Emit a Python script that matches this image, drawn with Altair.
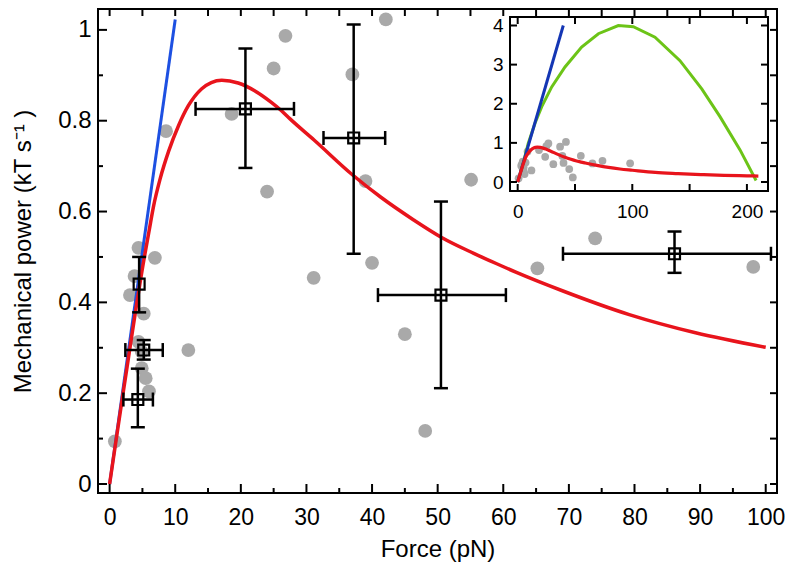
import altair as alt
import pandas as pd

# ---------------- data ----------------
# grey single-motor measurements: force (pN), mechanical power (kT/s)
dot_x = [0.8, 4.4, 6.9, 3.8, 3.1, 5.2, 4.4, 4.9, 12.0, 4.9, 5.5, 6.0, 8.6, 18.6,
         24.0, 25.0, 26.8, 31.1, 37.0, 39.0, 40.0, 42.1, 45.0, 48.1, 55.1, 65.2,
         74.0, 98.1]
dot_y = [0.094, 0.52, 0.498, 0.458, 0.416, 0.375, 0.313, 0.291, 0.295, 0.255,
         0.233, 0.204, 0.777, 0.815, 0.644, 0.915, 0.987, 0.454, 0.902, 0.667,
         0.487, 1.023, 0.33, 0.117, 0.67, 0.475, 0.541, 0.478]

# binned means with error bars
err_x = [4.3, 5.2, 4.5, 20.7, 37.2, 50.5, 86.1]
err_y = [0.186, 0.295, 0.44, 0.826, 0.762, 0.416, 0.507]
err_xlo = [2.1, 2.4, 4.5, 13.1, 32.6, 40.9, 69.1]
err_xhi = [6.6, 8.1, 4.5, 28.1, 42.0, 60.4, 100.8]
err_ylo = [0.125, 0.274, 0.378, 0.696, 0.507, 0.211, 0.465]
err_yhi = [0.254, 0.317, 0.500, 0.959, 1.012, 0.622, 0.556]

# red model curve
red_x = [0, 1, 2, 3, 4, 5.2, 6, 6.7, 7.7, 9, 10.5, 12, 14, 15.5, 17.1, 19.6, 22.1,
         24.6, 26.2, 27.5, 31.2, 37, 41.3, 46.4, 50.6, 55.5, 59, 62, 69.1, 79.2,
         89.3, 100, 120, 140, 160, 180, 200, 210]
red_y = [0, 0.098, 0.195, 0.29, 0.385, 0.492, 0.556, 0.612, 0.672, 0.733, 0.789,
         0.833, 0.870, 0.884, 0.889, 0.883, 0.866, 0.841, 0.822, 0.804, 0.757,
         0.681, 0.632, 0.581, 0.543, 0.508, 0.485, 0.466, 0.425, 0.373, 0.333,
         0.301, 0.245, 0.215, 0.19, 0.17, 0.158, 0.152]

# blue linear line (main and inset)
blue_x = [0, 10.0]
blue_y = [0, 1.023]
blue_inset_x = [0, 39.8]
blue_inset_y = [0, 4.0]

# green curve (inset only)
green_x = [0, 5, 9.2, 15.1, 20.9, 29.7, 41.3, 55.8, 70.4, 87.8, 100.9, 119.8,
           141.6, 160.6, 176.5, 194, 208]
green_y = [0, 0.5, 0.985, 1.5, 1.92, 2.43, 2.94, 3.45, 3.79, 4.0, 3.97, 3.70,
           3.10, 2.38, 1.67, 0.82, 0.04]

# tick values
x_major = [0, 10, 20, 30, 40, 50, 60, 70, 80, 90, 100]
x_minor = [5, 15, 25, 35, 45, 55, 65, 75, 85, 95]
y_major = [0, 0.2, 0.4, 0.6, 0.8, 1.0]
y_minor = [0.1, 0.3, 0.5, 0.7, 0.9]
x_top = [0, 5, 10, 15, 20, 25, 30, 35, 40, 45, 50, 55, 60, 65, 70, 75, 80, 85, 90, 95, 100]
y_right = [0, 0.1, 0.2, 0.3, 0.4, 0.5, 0.6, 0.7, 0.8, 0.9, 1.0]
ix_ticks = [0, 50, 100, 150, 200]
ix_labels = [0, 100, 200]
iy_ticks = [0, 1, 2, 3, 4]

# ---------------- layout / style ----------------
W, H = 679, 484
PAD_L = 90
FONT = "Liberation Sans"
RED, BLUE, BLUE2, GREEN, GREY = "#e8141c", "#1d50e2", "#1436b4", "#6cc417", "#a9a9a9"

X_DOM = [-1.77, 101.72]
Y_DOM = [-0.0198, 1.046]
IX_DOM = [-6.7, 218.4]
IY_DOM = [-0.23, 4.217]
IX_RANGE = [412, 670]
IY_RANGE = [182, 8]

XS = alt.Scale(domain=X_DOM, nice=False, zero=False)
YS = alt.Scale(domain=Y_DOM, nice=False, zero=False)
XA = alt.Axis(orient="bottom", title="Force (pN)", values=x_major, format="d",
              ticks=False, tickSize=0, domain=False, grid=False,
              labelFontSize=23, labelPadding=13, labelColor="black",
              titleFontSize=24, titleFontWeight="normal", titlePadding=8,
              titleColor="black")
YA = alt.Axis(orient="left", title="Mechanical power (kT s\u207b\u00b9 )", values=y_major,
              format="~g", ticks=False, tickSize=0, domain=False, grid=False,
              labelFontSize=24, labelPadding=7, labelColor="black",
              titleFontSize=24, titleFontWeight="normal", titlePadding=22,
              titleColor="black")

IXS = alt.Scale(domain=IX_DOM, range=IX_RANGE, nice=False, zero=False)
IYS = alt.Scale(domain=IY_DOM, range=IY_RANGE, nice=False, zero=False)
IXA = alt.Axis(orient="bottom", offset=-(H - IY_RANGE[0]), values=ix_labels, format="d",
               ticks=False, tickSize=0, domain=False, grid=False, title=None,
               labelFontSize=19, labelPadding=11, labelColor="black")
IYA = alt.Axis(orient="left", offset=-IX_RANGE[0], values=iy_ticks, format="d",
               ticks=False, tickSize=0, domain=False, grid=False, title=None,
               labelFontSize=19, labelPadding=7, labelColor="black")


def mx(f):
    return alt.X(f, type="quantitative", scale=XS, axis=XA)


def my(f):
    return alt.Y(f, type="quantitative", scale=YS, axis=YA)


def ix(f):
    return alt.X(f, type="quantitative", scale=IXS, axis=IXA)


def iy(f):
    return alt.Y(f, type="quantitative", scale=IYS, axis=IYA)


dots_df = pd.DataFrame({"x": dot_x, "y": dot_y})
red_df = pd.DataFrame({"x": red_x, "y": red_y})
blue_df = pd.DataFrame({"x": blue_x, "y": blue_y})
iblue_df = pd.DataFrame({"x": blue_inset_x, "y": blue_inset_y})
green_df = pd.DataFrame({"x": green_x, "y": green_y})
err_df = pd.DataFrame({"x": err_x, "y": err_y, "xlo": err_xlo, "xhi": err_xhi,
                       "ylo": err_ylo, "yhi": err_yhi})
capv_df = pd.DataFrame({"x": err_x + err_x, "y": err_ylo + err_yhi})
caph_df = pd.DataFrame({"x": err_xlo + err_xhi, "y": err_y + err_y})
caph_df = caph_df[[a != b for a, b in zip(caph_df["x"], err_x + err_x)]]

# ---------------- main panel ----------------
dots = alt.Chart(dots_df).mark_circle(size=190, color=GREY, opacity=1).encode(x=mx("x"), y=my("y"))
blue = alt.Chart(blue_df).mark_line(color=BLUE, strokeWidth=3).encode(x=mx("x"), y=my("y"))
red = (alt.Chart(red_df).transform_filter("datum.x <= 100")
       .mark_line(color=RED, strokeWidth=3.5, interpolate="monotone")
       .encode(x=mx("x"), y=my("y")))
errh = alt.Chart(err_df).mark_rule(color="black", strokeWidth=2.5).encode(
    y=my("y"), x=mx("xlo"), x2="xhi")
errv = alt.Chart(err_df).mark_rule(color="black", strokeWidth=2.5).encode(
    x=mx("x"), y=my("ylo"), y2="yhi")
capv = alt.Chart(capv_df).mark_tick(orient="horizontal", size=14, thickness=2.5,
                                    color="black", opacity=1).encode(x=mx("x"), y=my("y"))
caph = alt.Chart(caph_df).mark_tick(orient="vertical", size=14, thickness=2.5,
                                    color="black", opacity=1).encode(x=mx("x"), y=my("y"))
squares = alt.Chart(err_df).mark_point(shape="square", size=120, filled=False,
                                       strokeWidth=2.2, color="black", opacity=1).encode(
    x=mx("x"), y=my("y"))


def tdf(vals):
    return pd.DataFrame({"t": vals})


tk = dict(color="black", strokeWidth=2)
t_bot_maj = alt.Chart(tdf(x_major)).mark_rule(**tk).encode(x=mx("t"), y=alt.value(H), y2=alt.value(H - 9))
t_bot_min = alt.Chart(tdf(x_minor)).mark_rule(**tk).encode(x=mx("t"), y=alt.value(H), y2=alt.value(H - 5))
t_top = alt.Chart(tdf(x_top)).mark_rule(**tk).encode(x=mx("t"), y=alt.value(0), y2=alt.value(7))
t_left_maj = alt.Chart(tdf(y_major)).mark_rule(**tk).encode(y=my("t"), x=alt.value(0), x2=alt.value(9))
t_left_min = alt.Chart(tdf(y_minor)).mark_rule(**tk).encode(y=my("t"), x=alt.value(0), x2=alt.value(5))
t_right = alt.Chart(tdf(y_right)).mark_rule(**tk).encode(y=my("t"), x=alt.value(W), x2=alt.value(W - 7))

main = alt.layer(dots, blue, red, errh, errv, caph, capv, squares,
                 t_bot_maj, t_bot_min, t_top, t_left_maj, t_left_min, t_right)

# ---------------- inset ----------------
frame_df = pd.DataFrame({"x": [IX_DOM[0]], "x2": [IX_DOM[1]], "y": [IY_DOM[0]], "y2": [IY_DOM[1]]})
frame = alt.Chart(frame_df).mark_rect(fill="white", stroke="black", strokeWidth=2).encode(
    x=ix("x"), x2="x2", y=iy("y"), y2="y2")
idots = alt.Chart(dots_df).mark_circle(size=60, color=GREY, opacity=1).encode(x=ix("x"), y=iy("y"))
igreen = alt.Chart(green_df).mark_line(color=GREEN, strokeWidth=3).encode(x=ix("x"), y=iy("y"))
iblue = alt.Chart(iblue_df).mark_line(color=BLUE2, strokeWidth=3).encode(x=ix("x"), y=iy("y"))
ired = alt.Chart(red_df).mark_line(color=RED, strokeWidth=3.2, interpolate="monotone").encode(
    x=ix("x"), y=iy("y"))
it_b = alt.Chart(tdf(ix_ticks)).mark_rule(**tk).encode(
    x=ix("t"), y=alt.value(IY_RANGE[0]), y2=alt.value(IY_RANGE[0] - 7))
it_t = alt.Chart(tdf(ix_ticks)).mark_rule(**tk).encode(
    x=ix("t"), y=alt.value(IY_RANGE[1]), y2=alt.value(IY_RANGE[1] + 7))
it_l = alt.Chart(tdf(iy_ticks)).mark_rule(**tk).encode(
    y=iy("t"), x=alt.value(IX_RANGE[0]), x2=alt.value(IX_RANGE[0] + 7))
it_r = alt.Chart(tdf(iy_ticks)).mark_rule(**tk).encode(
    y=iy("t"), x=alt.value(IX_RANGE[1]), x2=alt.value(IX_RANGE[1] - 7))

inset = alt.layer(frame, idots, igreen, iblue, ired, it_b, it_t, it_l, it_r)

chart = (
    alt.layer(main, inset)
    .resolve_scale(x="independent", y="independent")
    .properties(width=W, height=H,
                padding={"left": PAD_L, "top": 1, "right": 8, "bottom": 79},
                autosize=alt.AutoSizeParams(type="none"),
                background="white")
    .configure_view(stroke="black", strokeWidth=2)
    .configure_axis(labelFont=FONT, titleFont=FONT)
)

chart.save("out.html", embed_options={"renderer": "svg", "actions": False})
